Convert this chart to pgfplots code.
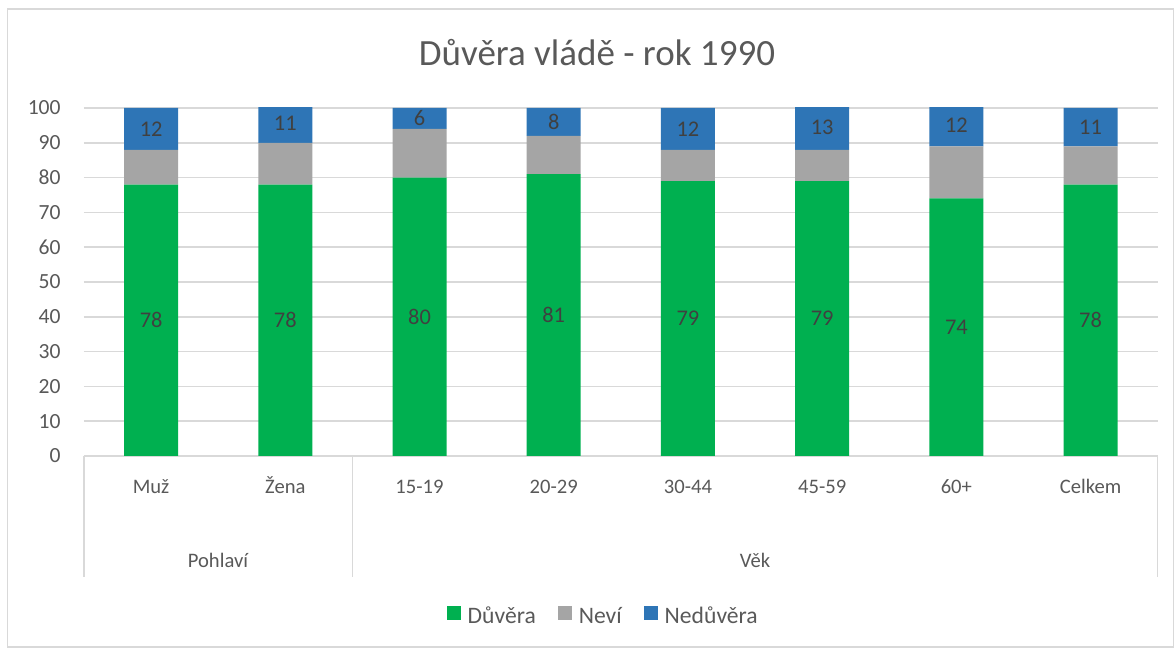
\documentclass[border=0pt]{standalone}
\usepackage{pgfplots}
\pgfplotsset{compat=1.18}
\usepackage{pgfplotstable}
\usepackage{fontspec}
\setmainfont{Carlito}
\definecolor{cgreen}{HTML}{00B050}
\definecolor{cgray}{HTML}{A5A5A5}
\definecolor{cblue}{HTML}{2E75B6}
\definecolor{gridc}{HTML}{D9D9D9}
\definecolor{txt}{HTML}{595959}
\definecolor{lbl}{HTML}{404040}
\pgfplotstableread{
x d n b
0 78 10 12
1 78 12 11
2 80 14 6
3 81 11 8
4 79 9 12
5 79 9 13
6 74 15 12
7 78 11 11
}\data
\begin{document}
\begin{tikzpicture}[x=0.5pt,y=0.5pt]
\useasboundingbox (0,0) rectangle (1175,648);
\draw[gridc, line width=0.75pt] (7.5,639) rectangle (1173.5,1);
\begin{axis}[
  at={(42pt,96pt)}, anchor=south west,
  width=536.85pt, height=174pt, scale only axis,
  xmin=-0.5, xmax=7.5, ymin=0, ymax=100,
  ybar stacked, bar width=27pt,
  axis lines*=left,
  axis line style={-},
  y axis line style={draw=none},
  x axis line style={draw=gridc, line width=0.75pt},
  major tick length=0pt,
  ymajorgrids, grid style={gridc, line width=0.75pt},
  ytick={0,10,...,100},
  xtick={0,...,7},
  xticklabels={Muž, Žena, 15-19, 20-29, 30-44, 45-59, 60+, Celkem},
  /pgf/number format/assume math mode=true,
  ticklabel style={text=txt},
  yticklabel style={anchor=east, inner sep=0pt, xshift=-11.5pt, font=\fontsize{10.8}{12}\selectfont},
  xticklabel style={anchor=base, inner sep=0pt, yshift=-18.75pt, font=\fontsize{10.3}{12}\selectfont},
  legend style={at={(0.4845,-0.463)}, anchor=center, draw=none, fill=none,
    legend columns=3, font=\fontsize{11.8}{14}\selectfont, text=txt,
    /tikz/every odd column/.append style={column sep=1.5pt},
    /tikz/every even column/.append style={column sep=9pt}},
  legend cell align=left,
  legend image code/.code={\fill[#1] (0pt,-1.2pt) rectangle (7pt,5.8pt);},
]
\addplot[fill=cgreen, draw=none] table[x=x,y=d]{\data};
\addplot[fill=cgray, draw=none] table[x=x,y=n]{\data};
\addplot[fill=cblue, draw=none] table[x=x,y=b]{\data};
\legend{Důvěra, Neví, Nedůvěra}
\end{axis}
\begin{axis}[
  at={(42pt,96pt)}, anchor=south west,
  width=536.85pt, height=174pt, scale only axis,
  xmin=-0.5, xmax=7.5, ymin=0, ymax=100,
  axis lines=none, clip=false,
]
\addplot[only marks, mark=none, nodes near coords, point meta=explicit symbolic,
  every node near coord/.append style={anchor=center, inner sep=0pt, font=\fontsize{11.2}{13}\selectfont, text=lbl}]
  table[x=x, y expr=\thisrow{d}/2, meta=d]{\data};
\addplot[only marks, mark=none, nodes near coords, point meta=explicit symbolic,
  every node near coord/.append style={anchor=center, inner sep=0pt, font=\fontsize{11.2}{13}\selectfont, text=lbl}]
  table[x=x, y expr=\thisrow{d}+\thisrow{n}+\thisrow{b}/2, meta=b]{\data};
\end{axis}
\draw[gridc, line width=0.75pt] (84,192) -- (84,71);
\draw[gridc, line width=0.75pt] (352.5,192) -- (352.5,71);
\draw[gridc, line width=0.75pt] (1157.7,192) -- (1157.7,71);
\node[anchor=base, inner sep=0pt, text=txt, font=\fontsize{10.3}{12}\selectfont] at (218,80) {Pohlaví};
\node[anchor=base, inner sep=0pt, text=txt, font=\fontsize{10.3}{12}\selectfont] at (755,80) {Věk};
\node[anchor=base, inner sep=0pt, text=txt, font=\fontsize{18.5}{22}\selectfont] at (597,582) {Důvěra vládě - rok 1990};
\end{tikzpicture}
\end{document}
